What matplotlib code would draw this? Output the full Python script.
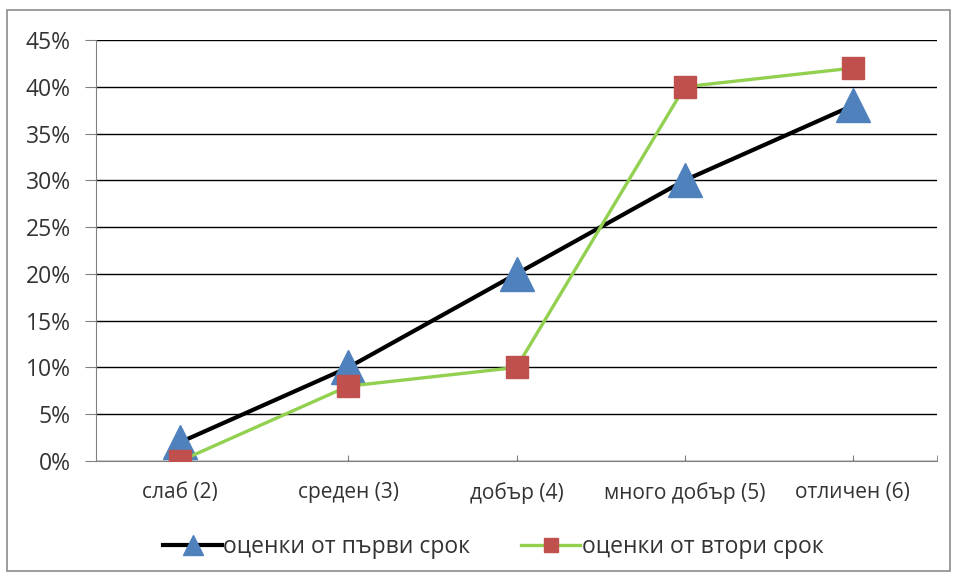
import matplotlib
matplotlib.use("Agg")
import matplotlib.pyplot as plt
from matplotlib.patches import Rectangle
from matplotlib.ticker import FixedLocator

categories = ["слаб (2)", "среден (3)", "добър (4)", "много добър (5)", "отличен (6)"]
first_term = [2, 10, 20, 30, 38]
second_term = [0, 8, 10, 40, 42]
y_ticks = [0, 5, 10, 15, 20, 25, 30, 35, 40, 45]
series_names = ["оценки от първи срок", "оценки от втори срок"]

plt.rcParams['font.family'] = ['Open Sans', 'DejaVu Sans']

fig = plt.figure(figsize=(9.56, 5.81), dpi=100)
fig.patches.append(Rectangle((7/956, 10/581), (950-7)/956, (571-10)/581,
                             transform=fig.transFigure, fill=False,
                             edgecolor='#8c8c8c', linewidth=1.2))
ax = fig.add_axes([96/956, (581-461)/581, (937-96)/956, (461-40)/581])

x = list(range(len(categories)))
ax.plot(x, first_term, color='black', linewidth=3, marker='^', markersize=24,
        markerfacecolor='#4F81BD', markeredgecolor='#4F81BD', label=series_names[0], zorder=3)
ax.plot(x, second_term, color='#92D050', linewidth=2.4, marker='s', markersize=16,
        markerfacecolor='#C0504D', markeredgecolor='#C0504D', label=series_names[1], zorder=4)

ax.set_xlim(-0.5, len(categories) - 0.5)
ax.set_ylim(0, 45)
ax.set_yticks(y_ticks)
ax.set_yticklabels([f"{v}%" for v in y_ticks], fontsize=16.5, color='#333333')
ax.set_xticks(x)
ax.set_xticklabels(categories, fontsize=15, color='#333333')
ax.tick_params(axis='x', which='major', length=4.5, direction='in', color='#808080', pad=15)
ax.xaxis.set_minor_locator(FixedLocator([-0.5, len(categories) - 0.5]))
ax.tick_params(axis='x', which='minor', length=4.5, direction='in', color='#808080')
ax.tick_params(axis='y', length=8, direction='out', color='#808080', pad=10)

ax.grid(axis='y', color='black', linewidth=1)
ax.set_axisbelow(True)
for s in ['top', 'right']:
    ax.spines[s].set_visible(False)
ax.spines['left'].set_color('#808080')
ax.spines['bottom'].set_color('#808080')
ax.spines['bottom'].set_zorder(2.5)

leg = fig.legend(loc='center', bbox_to_anchor=(493/956, (581-547)/581), ncol=2, frameon=False,
                 fontsize=16.5, handlelength=2.6, handletextpad=0.05, columnspacing=2.2,
                 markerscale=0.6)
for t in leg.get_texts():
    t.set_color('#333333')

fig.savefig("out.png", dpi=100)
